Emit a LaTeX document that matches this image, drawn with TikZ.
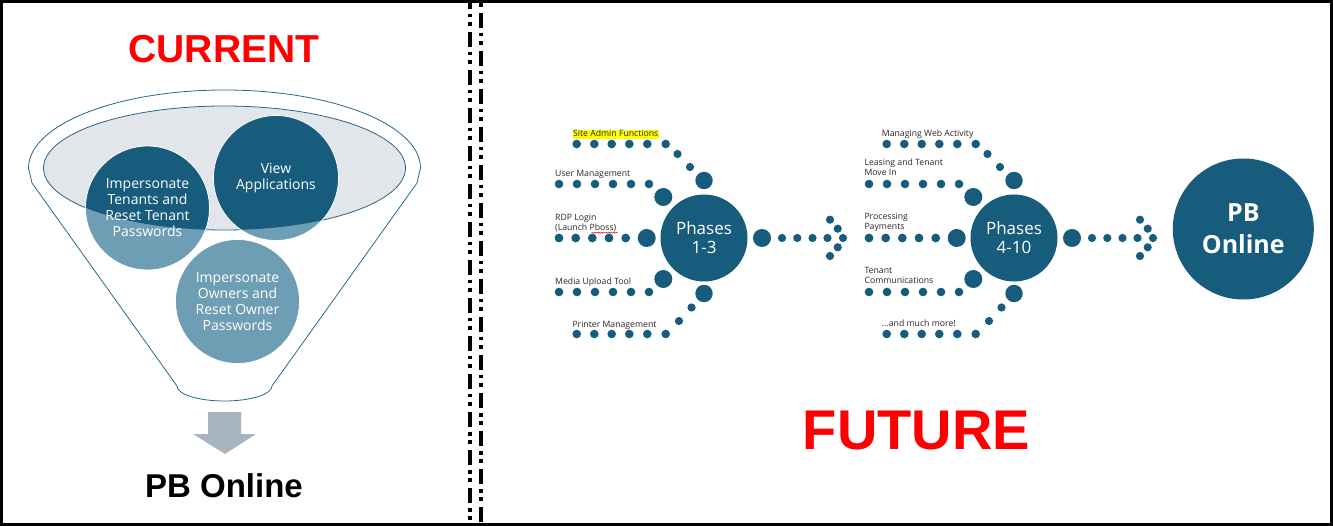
\documentclass[tikz,border=0pt]{standalone}
\usepackage{fontspec}
\setmainfont{Open Sans}
\newfontfamily\arialfont{Liberation Sans}
\usetikzlibrary{decorations.pathmorphing}
\definecolor{dteal}{RGB}{23,91,125}
\definecolor{lteal}{RGB}{110,158,180}
\definecolor{egray}{RGB}{226,230,234}
\definecolor{rim}{RGB}{40,102,138}
\definecolor{agray}{RGB}{168,180,192}
\definecolor{hiyellow}{RGB}{255,255,0}
\definecolor{lbltext}{RGB}{40,40,40}
\tikzset{
  phase/.style={circle, fill=dteal, minimum size=87pt, inner sep=0pt, text=white,
    align=center, font=\fontsize{17}{19}\selectfont},
  bubble/.style={circle, draw=white, line width=0.8pt, minimum size=124pt, inner sep=0pt,
    text=white, align=center, font=\fontsize{14}{16}\selectfont},
  lbl/.style={inner sep=0pt, anchor=base west, text=lbltext,
    font=\fontsize{8.7}{9.8}\selectfont},
  title/.style={inner sep=0pt, anchor=base, font=\arialfont\bfseries},
  divider/.style={line width=4pt, black,
    dash pattern=on 15pt off 5pt on 3.5pt off 4.5pt on 4pt off 6pt},
}
\newcommand\PhGroup[3]{%
\begin{scope}[shift={(#1,238)}]
  \foreach \dx in {-127.3,-109.7,-92.3,-74.7,-56.7,-38.3}{
    \fill[dteal] (\dx,-94) circle (4.3pt);
    \fill[dteal] (\dx,96) circle (4.3pt);}
  \foreach \dx in {-145,-127,-109,-91,-73,-55}{
    \fill[dteal] (\dx,-54) circle (4.3pt);
    \fill[dteal] (\dx,54) circle (4.3pt);}
  \foreach \dx in {-145,-128.3,-111.7,-95,-78.3}{\fill[dteal] (\dx,0) circle (4.4pt);}
  \fill[dteal] (-26.5,-84) circle (4.1pt) (-14,-71) circle (4.1pt) (0,-57.5) circle (8.7pt);
  \fill[dteal] (-25,83) circle (4.1pt) (-12.5,69.5) circle (4.1pt) (0,55.5) circle (8.7pt);
  \fill[dteal] (-40.7,-41) circle (9pt) (-40.7,41) circle (9pt) (-57.3,0) circle (9pt);
  \fill[dteal] (58,0) circle (9pt);
  \foreach \dx in {78,93.3,108.5,123.5,139}{\fill[dteal] (\dx,0) circle (4.1pt);}
  \fill[dteal] (133.7,-9.3) circle (4.1pt) (126,-18.3) circle (4.1pt)
               (133.7,9.3) circle (4.1pt) (126,18) circle (4.1pt);
  \node[phase] (#2) at (0,0) {#3};
\end{scope}}
\begin{document}
\begin{tikzpicture}[x=1pt,y=-1pt]
\useasboundingbox (0,0) rectangle (1333,526);
\fill[white] (0,0) rectangle (1333,526);

% ---------- CURRENT (left panel) ----------
\node[title, text=red, font=\arialfont\bfseries\fontsize{39}{39}\selectfont] (cur) at (224,63) {CURRENT};

\filldraw[fill=white, draw=rim, line width=0.8pt]
  (28.5,168) arc[start angle=180, end angle=0, x radius=196pt, y radius=78pt]
  -- (417,183) -- (272,386)
  arc[start angle=0, end angle=-180, x radius=47.5pt, y radius=15pt]
  -- (32,183) -- cycle;
\filldraw[fill=egray, draw=rim, line width=0.8pt] (224.5,168) ellipse[x radius=181pt, y radius=62pt];

\fill[lteal] (147.5,208) circle (62pt) (276,178) circle (62.5pt) (237.5,301.5) circle (62pt);
\begin{scope}
  \clip (224.5,168) ellipse[x radius=181pt, y radius=62pt];
  \fill[dteal] (147.5,208) circle (62pt) (276,178) circle (62.5pt);
\end{scope}
\node[bubble] (tenants) at (147.5,208) {Impersonate\\Tenants and\\Reset Tenant\\Passwords};
\node[bubble, minimum size=125pt] (viewapp) at (276,178) {View\\Applications};
\node[bubble] (owners) at (237.5,301.5) {Impersonate\\Owners and\\Reset Owner\\Passwords};

\fill[agray] (208,412) -- (241,412) -- (241,434) -- (256,434) -- (225,454)
  -- (193,434) -- (208,434) -- cycle;
\node[title, font=\arialfont\bfseries\fontsize{33}{33}\selectfont] (pbleft) at (224,497) {PB Online};

% ---------- FUTURE (right panel) ----------
\PhGroup{704}{ph1}{Phases\\1-3}
\PhGroup{1014}{ph2}{Phases\\4-10}

\node[lbl, fill=hiyellow, inner xsep=0.6pt, text height=6.6pt, text depth=2.6pt] (sa) at (572.3,136.7) {Site Admin Functions};
\node[lbl] (um) at (555,176.7) {User Management};
\node[lbl] (rdpa) at (555,221) {RDP Login};
\node[lbl] (rdpb) at (555,230.7) {(Launch Pboss)};
\node[lbl] (mu) at (555,285) {Media Upload Tool};
\node[lbl] (pm) at (572.3,327.3) {Printer Management};
\draw[red!85!black, line width=0.45pt, decorate, decoration={snake, amplitude=0.6pt, segment length=2.4pt}]
  ([xshift=0.5pt, yshift=-2pt]rdpb.base -| 591,0) -- ++(26,0);

\node[lbl] (mw) at (881.7,136.7) {Managing Web Activity};
\node[lbl] (lta) at (864.3,166) {Leasing and Tenant};
\node[lbl] (ltb) at (864.3,176) {Move In};
\node[lbl] (ppa) at (864.3,220) {Processing};
\node[lbl] (ppb) at (864.3,230) {Payments};
\node[lbl] (tca) at (864.3,274) {Tenant};
\node[lbl] (tcb) at (864.3,284) {Communications};
\node[lbl] (mm) at (881.7,327) {...and much more!};

\node[circle, fill=dteal, minimum size=141pt, inner sep=0pt, text=white, align=center,
  font=\bfseries\fontsize{25}{32}\selectfont] (pbo) at (1243.3,229) {PB\\Online};

\node[title, text=red, font=\arialfont\bfseries\fontsize{56}{56}\selectfont] (fut) at (916.5,449.5) {FUTURE};

% ---------- dividers and frame ----------
\draw[divider, dash phase=6pt] (470,0) -- (470,526);
\draw[divider, dash phase=25pt] (481,0) -- (481,526);
\draw[line width=3pt, black] (1.5,1.5) rectangle (1331.5,524.5);
\end{tikzpicture}
\end{document}
